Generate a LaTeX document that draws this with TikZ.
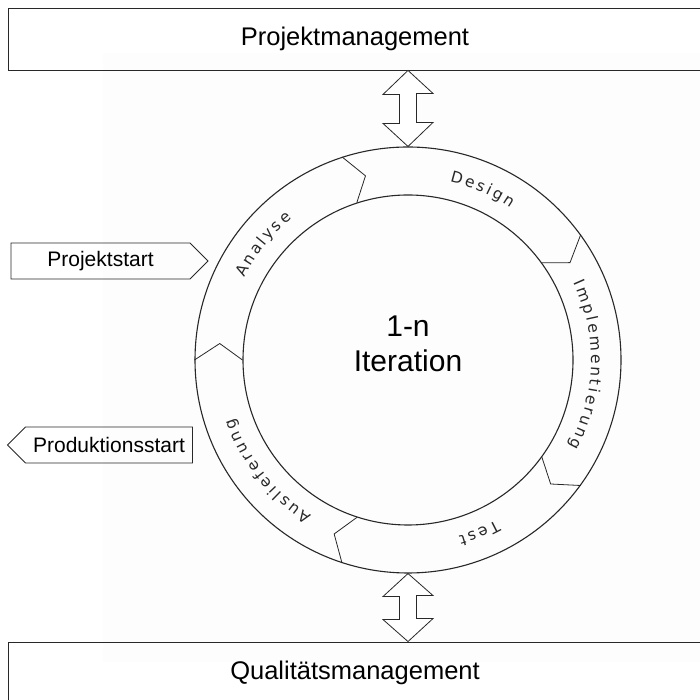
\documentclass[tikz,border=0pt]{standalone}
\usepackage{fontspec}
\setmainfont{Liberation Sans}
\newfontfamily\ringfont{DejaVu Sans}
\XeTeXinterchartoks 0 4095 = {\kern2.6pt}
\protected\def\phasefont{\ringfont\fontsize{15.5}{18}\selectfont\color{lineColour}\XeTeXinterchartokenstate=1 }
\usetikzlibrary{shapes.symbols,decorations.text,calc,positioning}

\begin{document}
\begin{tikzpicture}[x=1pt, y=1pt]
	\definecolor{lineColour}{RGB}{40, 40, 40}
	\definecolor{backColour}{RGB}{253, 253, 253}
	\tikzstyle{bar}=[rectangle, draw=lineColour, line width=0.9pt, minimum width=694pt, minimum height=62pt, font=\fontsize{25.5}{30}\selectfont]
	\tikzstyle{milestone}=[signal, draw=lineColour, line width=0.8pt, signal from=nowhere, signal pointer angle=90, minimum height=36pt, inner xsep=2pt, font=\fontsize{21}{25}\selectfont]
	\tikzstyle{ring}=[circle, draw=lineColour, line width=1.1pt]
	\tikzstyle{divider}=[draw=lineColour, line width=0.8pt]
	\tikzstyle{dblarrow}=[draw=lineColour, fill=white, line width=0.8pt]
	\tikzset{phase/.style={decorate, decoration={text along path, text/.expanded={|\phasefont|#1}, text align=center}}}

	\useasboundingbox (0,0) rectangle (700,700);
	\fill[backColour] (103,38) rectangle (700,647);

	\node [bar] (pm) at (355,661) {Projektmanagement};
	\node [bar] (qm) at (355,27) {Qualitätsmanagement};

	\node [ring, minimum size=426pt] (ring) at (408,340) {};
	\node [ring, minimum size=330pt] (iter) at (ring.center) {};
	\node [align=center, font=\fontsize{30}{35}\selectfont] (itlabel) at ([yshift=16pt]iter.center) {1-n\\Iteration};

	% chevrons between the phases
	\foreach \ang in {180,108,36,324,252}
		\draw [divider] (ring.\ang) -- ($(iter.center)+(\ang-5:189)$) -- (iter.\ang);

	% phase names along the ring
	\foreach \name/\ang in {Analyse/141, Design/66, Implementierung/-2, Test/-68, Auslieferung/-142}
		\path [phase=\name] (iter.center) ++(\ang+60:183) arc [start angle=\ang+60, end angle=\ang-60, radius=183];

	\node [milestone, signal to=east, minimum width=197pt] (start) at (100.5,439) {Projektstart};
	\node [milestone, signal to=west, minimum width=185pt] (prod) at (109,255) {Produktionsstart};

	\draw [dblarrow] (pm.south -| ring.north) -- ++(-25,-24) -- ++(16.5,0) -- ++(0,-29) -- ++(-16.5,0)
		-- (ring.north) -- ++(25,24) -- ++(-16.5,0) -- ++(0,29) -- ++(16.5,0) -- cycle;
	\draw [dblarrow] (ring.south) -- ++(-25,-23) -- ++(16.5,0) -- ++(0,-23) -- ++(-16.5,0)
		-- (qm.north -| ring.south) -- ++(25,23) -- ++(-16.5,0) -- ++(0,23) -- ++(16.5,0) -- cycle;
\end{tikzpicture}
\end{document}
